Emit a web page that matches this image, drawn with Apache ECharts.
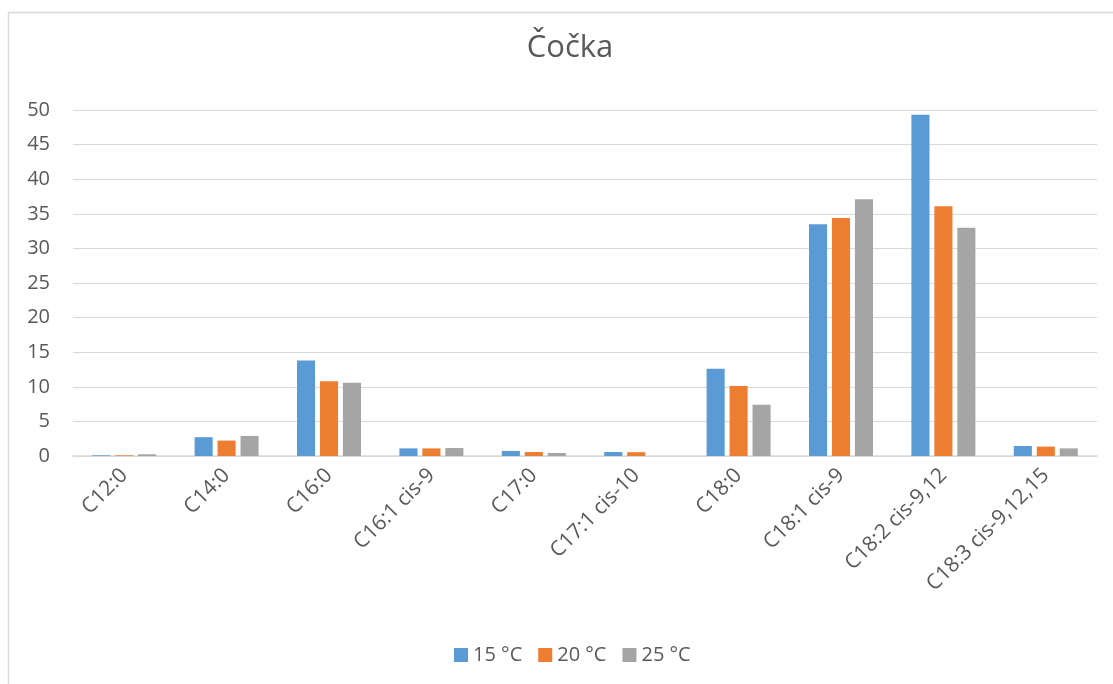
<!DOCTYPE html>
<html>
<head>
<meta charset="utf-8">
<script src="https://cdn.jsdelivr.net/npm/echarts@6/dist/echarts.min.js"></script>
<style>
html,body{margin:0;padding:0;background:#fff;}
#chart{width:1113px;height:684px;}
</style>
</head>
<body>
<div id="chart"></div>
<script>
const categories = ['C12:0','C14:0','C16:0','C16:1 cis-9','C17:0','C17:1 cis-10','C18:0','C18:1 cis-9','C18:2 cis-9,12','C18:3 cis-9,12,15'];
const s15 = [0.1, 2.72, 13.8, 1.1, 0.73, 0.58, 12.6, 33.5, 49.3, 1.45];
const s20 = [0.1, 2.23, 10.8, 1.1, 0.58, 0.55, 10.1, 34.4, 36.1, 1.36];
const s25 = [0.25, 2.9, 10.6, 1.15, 0.44, 0.0, 7.4, 37.1, 33.0, 1.1];
const seriesNames = ['15 °C','20 °C','25 °C'];
const yTicks = [0,5,10,15,20,25,30,35,40,45,50];

const FONT = '"Open Sans", "Noto Sans", sans-serif';
const chart = echarts.init(document.getElementById('chart'), null, {renderer:'canvas'});
const colors = ['#5B9BD5','#ED7D31','#A5A5A5'];
chart.setOption({
  animation:false,
  backgroundColor:'#fff',
  color: colors,
  graphic:[{type:'rect', shape:{x:8.5,y:12.5,width:1200,height:800}, style:{fill:'none',stroke:'#d9d9d9',lineWidth:1.5}, silent:true}],
  title:{text:'Čočka', left:565, top:28, textAlign:'center',
    textStyle:{fontFamily:FONT, fontSize:31, fontWeight:'normal', color:'#595959'}},
  legend:{data:seriesNames, left:449, top:640, itemWidth:14, itemHeight:14, itemGap:16,
    icon:'rect', textStyle:{fontFamily:FONT, fontSize:20, color:'#595959'}},
  grid:{left:73, right:16, top:110, bottom:228, containLabel:false},
  xAxis:{type:'category', data:categories,
    axisLine:{lineStyle:{color:'#d9d9d9', width:1.5}}, axisTick:{show:false},
    axisLabel:{rotate:45, interval:0, margin:16, fontFamily:FONT, fontSize:21, color:'#595959'}},
  yAxis:{type:'value', min:yTicks[0], max:yTicks[yTicks.length-1], interval:5,
    axisLine:{show:false}, axisTick:{show:false},
    splitLine:{lineStyle:{color:'#d9d9d9', width:1}},
    axisLabel:{margin:23, fontFamily:FONT, fontSize:20, color:'#595959'}},
  series:[
    {name:seriesNames[0], type:'bar', data:s15, barGap:'27%', barCategoryGap:'37.5%'},
    {name:seriesNames[1], type:'bar', data:s20, barGap:'27%', barCategoryGap:'37.5%'},
    {name:seriesNames[2], type:'bar', data:s25, barGap:'27%', barCategoryGap:'37.5%'}
  ]
});
</script>
</body>
</html>
